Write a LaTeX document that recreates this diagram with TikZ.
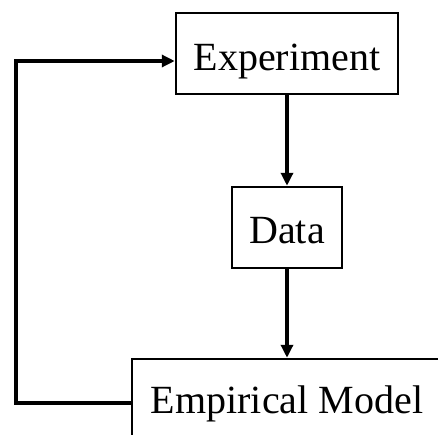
\documentclass[tikz,border=0pt]{standalone}
\usepackage{fontspec}
\setmainfont{Liberation Serif}
\usetikzlibrary{arrows.meta}
\begin{document}
\begin{tikzpicture}[x=1pt,y=-1pt,
  box/.style={draw,line width=2.5pt,inner sep=0pt,align=center,
    font=\fontsize{40}{48}\selectfont},
  flow/.style={line width=3.5pt,-{Triangle[length=13pt,width=12pt]}}]
  % page frame; the model box runs past the right and bottom edges
  \clip (0,0) rectangle (438,434);
  \node[box,minimum width=222pt,text height=57.5pt,text depth=23.5pt]
    (exp) at (287,53.5) {Experiment};
  \node[box,minimum width=110pt,text height=56.3pt,text depth=24.7pt]
    (data) at (287,227.5) {Data};
  \node[box,minimum width=310pt,text height=54pt,text depth=34pt]
    (emp) at (287,403) {Empirical Model};
  \coordinate (loop) at (16,61);
  \draw[flow] (exp.south) -- (data.north);
  \draw[flow] (data.south) -- (emp.north);
  % feedback loop from the model back to the experiment
  \draw[flow] (emp.west) -- (emp.west -| loop) -- (loop) -- (loop -| exp.west);
\end{tikzpicture}
\end{document}
